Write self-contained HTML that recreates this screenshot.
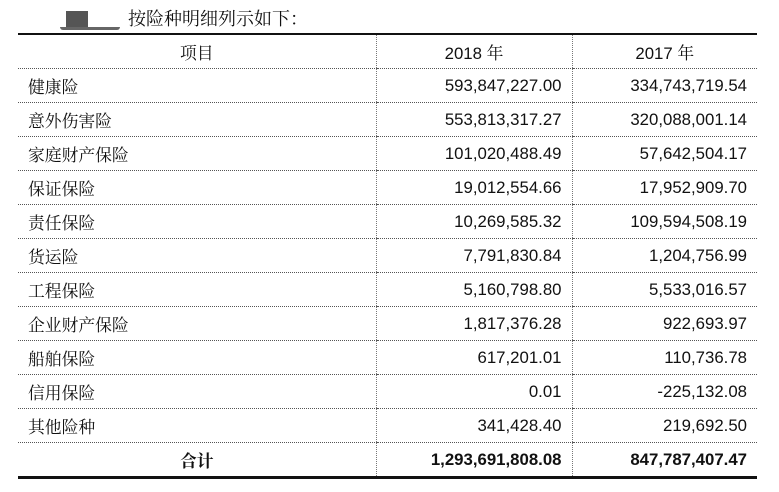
<!DOCTYPE html>
<html><head><meta charset="utf-8"><style>
body{margin:0;width:779px;height:492px;background:#fff;position:relative;font-family:"Liberation Sans","Noto Serif CJK SC",serif;color:#111;overflow:hidden}
.title{position:absolute;left:128px;top:7px;font-size:18px;line-height:24px;font-family:"Liberation Serif","Noto Serif CJK SC",serif}
.blk{position:absolute;left:66px;top:11px;width:22px;height:17px;background:#555}
.base{position:absolute;left:60px;top:27px;width:60px;height:3px;background:#666;border-radius:0 0 6px 6px}
table{position:absolute;left:18px;top:33px;width:739px;border-collapse:collapse;font-size:16.8px}
td{height:33px;padding:0 10px;border-bottom:1px dotted #555;border-left:1px dotted #777}
td:first-child{border-left:none}
tr:first-child td{border-top:2px solid #111;text-align:center}
tr:last-child td{border-bottom:3px solid #111;font-weight:bold}
td.n{text-align:right}
</style></head><body>
<div class="blk"></div><div class="base"></div>
<div class="title">按险种明细列示如下：</div>
<table>
<colgroup><col style="width:358px"><col style="width:196px"><col style="width:185px"></colgroup>
<tr><td>项目</td><td>2018 年</td><td>2017 年</td></tr>
<tr><td>健康险</td><td class="n">593,847,227.00</td><td class="n">334,743,719.54</td></tr>
<tr><td>意外伤害险</td><td class="n">553,813,317.27</td><td class="n">320,088,001.14</td></tr>
<tr><td>家庭财产保险</td><td class="n">101,020,488.49</td><td class="n">57,642,504.17</td></tr>
<tr><td>保证保险</td><td class="n">19,012,554.66</td><td class="n">17,952,909.70</td></tr>
<tr><td>责任保险</td><td class="n">10,269,585.32</td><td class="n">109,594,508.19</td></tr>
<tr><td>货运险</td><td class="n">7,791,830.84</td><td class="n">1,204,756.99</td></tr>
<tr><td>工程保险</td><td class="n">5,160,798.80</td><td class="n">5,533,016.57</td></tr>
<tr><td>企业财产保险</td><td class="n">1,817,376.28</td><td class="n">922,693.97</td></tr>
<tr><td>船舶保险</td><td class="n">617,201.01</td><td class="n">110,736.78</td></tr>
<tr><td>信用保险</td><td class="n">0.01</td><td class="n">-225,132.08</td></tr>
<tr><td>其他险种</td><td class="n">341,428.40</td><td class="n">219,692.50</td></tr>
<tr><td style="text-align:center">合计</td><td class="n">1,293,691,808.08</td><td class="n">847,787,407.47</td></tr>
</table>
</body></html>
